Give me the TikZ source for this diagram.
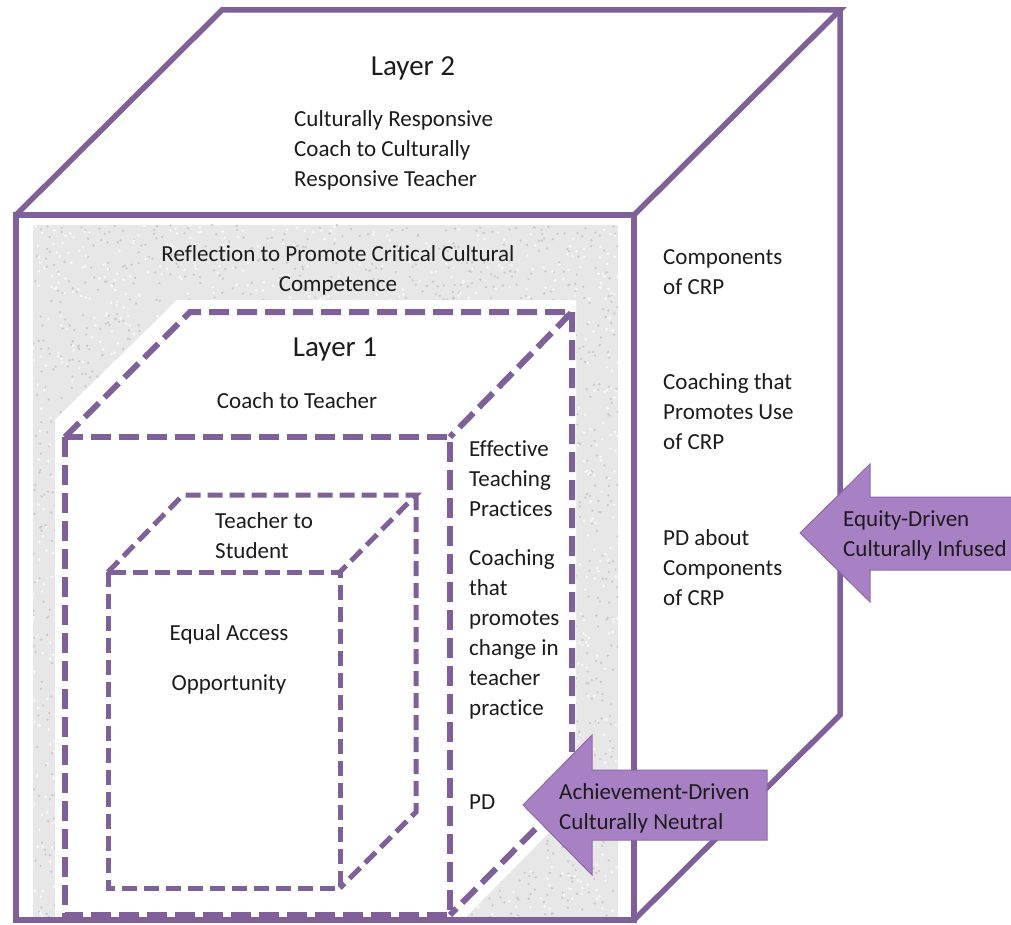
\documentclass[tikz,border=0pt]{standalone}
\usepackage{fontspec}
\setmainfont{Carlito}[Ligatures={NoCommon}]
\definecolor{cubepurple}{HTML}{7F6099}
\definecolor{arrowfill}{HTML}{A880C4}
\definecolor{arrowedge}{HTML}{8C6AAA}
\definecolor{ink}{HTML}{1C1C1C}
\definecolor{stone}{HTML}{E7E7E7}
\definecolor{stonedark}{HTML}{C9C9C9}
\definecolor{stonelight}{HTML}{F8F8F8}
\tikzset{
  cubeline/.style={draw=cubepurple, line width=5.5pt, line join=miter},
  dashouter/.style={draw=cubepurple, line width=6pt, dash pattern=on 20pt off 8pt},
  dashinner/.style={draw=cubepurple, line width=5pt, dash pattern=on 15pt off 7pt},
  txt/.style={font=\fontsize{23}{30}\selectfont, inner sep=0pt, text=ink},
  ttl/.style={font=\fontsize{29}{34}\selectfont, inner sep=0pt, text=ink},
  bigarrow/.style={fill=arrowfill, draw=arrowedge, line width=1pt, line join=miter}
}
\begin{document}
\begin{tikzpicture}[x=1pt,y=-1pt]
\useasboundingbox (0,0) rectangle (1011,925);
\clip (0,0) rectangle (1011,925);
\fill[white] (0,0) rectangle (1011,925);

% stone-textured panel on the front face
\fill[stone] (33,225) rectangle (618,920);
\begin{scope}
  \clip (33,225) rectangle (618,920);
  \pgfmathsetseed{42}
  \foreach \i in {1,...,2600}{
    \fill[stonedark] ({33+585*rnd},{225+695*rnd}) circle (1.3pt);
  }
  \foreach \i in {1,...,2200}{
    \fill[stonelight] ({33+585*rnd},{225+695*rnd}) circle (1.5pt);
  }
\end{scope}

% white silhouette behind Layer 1
\fill[white] (177,300) -- (576,300) -- (576,805) -- (463,920)
  -- (55,920) -- (55,420) -- cycle;

% Layer 1 cube (dashed)
\draw[dashouter] (65,437) rectangle (450,915);
\draw[dashouter] (65,437) -- (190,312) -- (572,312) -- (450,437);
\draw[dashouter] (572,312) -- (572,792) -- (450,915);

% innermost cube (dashed)
\draw[dashinner] (108,572) rectangle (340,888);
\draw[dashinner] (108,572) -- (183,495) -- (416,495) -- (340,572);
\draw[dashinner] (416,495) -- (416,812) -- (340,888);

% Layer 2 cube (solid)
\draw[cubeline] (16,215) rectangle (634,920);
\draw[cubeline] (16,215) -- (222,10) -- (840,10) -- (634,215);
\draw[cubeline] (840,10) -- (840,715) -- (634,920);

% Layer 2 texts
\node[ttl] (l2) at (413,68) {Layer 2};
\node[txt, anchor=west, align=left] (l2rel) at (294,150)
  {Culturally Responsive\\Coach to Culturally\\Responsive Teacher};
\node[txt, align=center] (refl) at (338,270)
  {Reflection to Promote Critical Cultural\\Competence};
\node[txt, anchor=west, align=left] (comp) at (663,272) {Components\\of CRP};
\node[txt, anchor=west, align=left] (coachcrp) at (663,412)
  {Coaching that\\Promotes Use\\of CRP};
\node[txt, anchor=west, align=left] (pdcrp) at (663,568)
  {PD about\\Components\\of CRP};

% Layer 1 texts
\node[ttl] (l1) at (335,350) {Layer 1};
\node[txt] (l1rel) at (297,401) {Coach to Teacher};
\node[txt, anchor=west, align=left] (etp) at (469,479)
  {Effective\\Teaching\\Practices};
\node[txt, anchor=west, align=left] (coachchg) at (469,634)
  {Coaching\\that\\promotes\\change in\\teacher\\practice};
\node[txt, anchor=west] (pd) at (469,802) {PD};

% innermost texts
\node[txt, anchor=west, align=left] (l0rel) at (215,536) {Teacher to\\Student};
\node[txt] (eqa) at (229,634) {Equal Access};
\node[txt] (opp) at (229,684) {Opportunity};

% block arrows
\draw[bigarrow] (800,533) -- (870,464) -- (870,497) -- (1016,497)
  -- (1016,570) -- (870,570) -- (870,602) -- cycle;
\node[txt, anchor=west, align=left] (equity) at (843,535)
  {Equity-Driven\\Culturally Infused};
\draw[bigarrow] (523,805) -- (592,735) -- (592,770) -- (767,770)
  -- (767,840) -- (592,840) -- (592,875) -- cycle;
\node[txt, anchor=west, align=left] (achieve) at (559,808)
  {Achievement-Driven\\Culturally Neutral};
\end{tikzpicture}
\end{document}
